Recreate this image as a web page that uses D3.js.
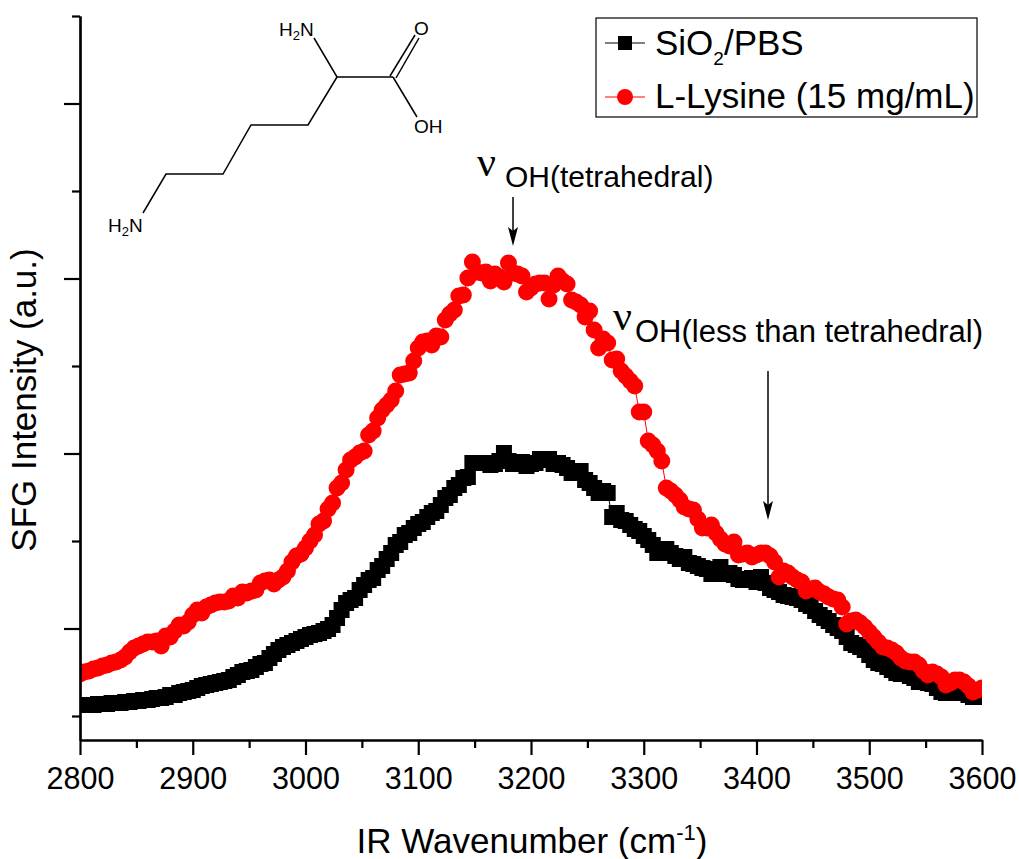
<!DOCTYPE html>
<html><head><meta charset="utf-8">
<script src="https://cdn.jsdelivr.net/npm/d3@7/dist/d3.min.js"></script>
<style>html,body{margin:0;padding:0;background:#fff}svg{display:block}text{font-family:"Liberation Sans",Arial,sans-serif;fill:#000}</style>
</head><body><svg id="c" width="1019" height="859"></svg>
<script>
const wavenumber=[2800,2804,2808,2812,2816,2820,2824,2828,2832,2836,2840,2844,2848,2852,2856,2860,2864,2868,2872,2876,2880,2884,2888,2892,2896,2900,2904,2908,2912,2916,2920,2924,2928,2932,2936,2940,2944,2948,2952,2956,2960,2964,2968,2972,2976,2980,2984,2988,2992,2996,3000,3004,3008,3012,3016,3020,3024,3028,3032,3036,3040,3044,3048,3052,3056,3060,3064,3068,3072,3076,3080,3084,3088,3092,3096,3100,3104,3108,3112,3116,3120,3124,3128,3132,3136,3140,3144,3148,3152,3156,3160,3164,3168,3172,3176,3180,3184,3188,3192,3196,3200,3204,3208,3212,3216,3220,3224,3228,3232,3236,3240,3244,3248,3252,3256,3260,3264,3268,3272,3276,3280,3284,3288,3292,3296,3300,3304,3308,3312,3316,3320,3324,3328,3332,3336,3340,3344,3348,3352,3356,3360,3364,3368,3372,3376,3380,3384,3388,3392,3396,3400,3404,3408,3412,3416,3420,3424,3428,3432,3436,3440,3444,3448,3452,3456,3460,3464,3468,3472,3476,3480,3484,3488,3492,3496,3500,3504,3508,3512,3516,3520,3524,3528,3532,3536,3540,3544,3548,3552,3556,3560,3564,3568,3572,3576,3580,3584,3588,3592,3596,3600];
const sio2=[11,11,11,11,12,12,12,13,13,13,14,14,15,15,16,16,17,18,18,19,21,21,23,24,25,26,28,30,31,32,33,34,35,36,39,41,44,45,46,49,52,53,58,62,66,69,71,73,75,77,79,81,82,83,85,87,91,98,106,113,116,118,126,131,136,138,146,150,157,163,171,174,181,183,188,192,194,199,203,205,211,218,221,228,231,238,239,253,253,253,253,251,252,255,263,255,252,253,254,250,252,253,257,256,257,252,253,251,248,243,244,245,236,233,228,223,225,223,199,203,196,195,191,187,185,180,176,171,163,167,167,163,160,157,159,153,152,150,148,147,142,145,149,142,143,141,137,136,136,138,134,139,133,128,126,124,121,120,119,118,116,112,110,105,101,98,95,91,88,85,79,73,71,69,66,61,56,53,52,49,46,43,42,42,40,38,34,34,33,32,28,24,23,23,25,25,23,21,19,19,20];
const lysine=[42,44,45,47,48,50,51,53,54,56,59,64,68,70,72,74,74,75,70,80,79,85,91,90,94,101,106,103,109,111,113,114,114,115,120,118,124,123,125,126,133,135,136,132,136,139,145,154,160,162,168,175,181,192,195,207,213,228,233,246,256,259,263,265,281,285,298,306,311,316,325,341,342,343,355,368,374,375,371,380,379,396,402,406,420,421,438,454,444,443,444,435,442,439,434,453,443,442,440,424,428,432,433,433,417,431,440,435,432,416,414,411,399,405,386,368,377,373,356,357,345,340,335,330,304,304,275,271,265,255,228,225,221,216,209,207,206,197,188,188,191,183,177,172,170,174,161,162,163,159,161,163,163,160,154,139,145,143,139,136,134,125,127,128,124,122,119,117,116,109,92,95,96,93,89,84,79,74,69,68,66,63,58,55,54,54,51,45,41,44,42,39,31,33,36,36,34,30,24,26,28];
const xMajor=[2800,2900,3000,3100,3200,3300,3400,3500,3600];
const xMinor=[2850,2950,3050,3150,3250,3350,3450,3550];
const yMajor=[87.5,262.5,437.5,612.5];
const yMinor=[0,175,350,525,700];
const seriesNames=["SiO","/PBS","L-Lysine (15 mg/mL)"];

const svg=d3.select("#c");
const x=d3.scaleLinear().domain([2800,3600]).range([80,982]);
const y=d3.scaleLinear().domain([-24,700]).range([740,16]);

svg.append("defs").append("clipPath").attr("id","plot").append("rect")
  .attr("x",80).attr("y",16).attr("width",902).attr("height",724);
const plot=svg.append("g").attr("clip-path","url(#plot)");
const line=d3.line().x((d,i)=>x(wavenumber[i])).y(d=>y(d));

plot.append("path").attr("d",line(sio2)).attr("fill","none").attr("stroke","#000").attr("stroke-width",1);
plot.selectAll(".s").data(sio2).join("rect").attr("width",16).attr("height",16)
  .attr("x",(d,i)=>x(wavenumber[i])-8).attr("y",d=>y(d)-8).attr("fill","#000");
plot.append("path").attr("d",line(lysine)).attr("fill","none").attr("stroke","#f00").attr("stroke-width",1);
plot.selectAll(".r").data(lysine).join("circle").attr("r",8.5)
  .attr("cx",(d,i)=>x(wavenumber[i])).attr("cy",d=>y(d)).attr("fill","#f00");

function styleAxis(g){g.selectAll("path,line").attr("stroke","#000").attr("stroke-width",2.2);}
const bottom=svg.append("g").attr("transform","translate(0,740)");
bottom.append("g").call(d3.axisBottom(x).tickValues(xMinor).tickSize(8).tickFormat("").tickSizeOuter(0)).call(styleAxis);
const bm=bottom.append("g").call(d3.axisBottom(x).tickValues(xMajor).tickSize(15).tickPadding(12).tickFormat(d3.format("d")).tickSizeOuter(0)).call(styleAxis);
bm.selectAll("text").attr("font-size",30.5).style("font-family",'"Liberation Sans"').attr("fill","#000");
const left=svg.append("g").attr("transform","translate(80,0)");
left.append("g").call(d3.axisLeft(y).tickValues(yMinor).tickSize(8).tickFormat("").tickSizeOuter(0)).call(styleAxis);
left.append("g").call(d3.axisLeft(y).tickValues(yMajor).tickSize(16).tickFormat("").tickSizeOuter(0)).call(styleAxis);

const xt=svg.append("text").attr("x",532).attr("y",853).attr("text-anchor","middle").attr("font-size",35);
xt.append("tspan").text("IR Wavenumber (cm");
xt.append("tspan").text("-1").attr("font-size",22).attr("dy",-13);
xt.append("tspan").text(")").attr("dy",13);
svg.append("text").attr("transform","translate(36,400) rotate(-90)").attr("text-anchor","middle").attr("font-size",35).text("SFG Intensity (a.u.)");

// legend
const lg=svg.append("g");
lg.append("rect").attr("x",596).attr("y",18).attr("width",381).attr("height",99).attr("fill","#fff").attr("stroke","#000").attr("stroke-width",1.2);
lg.append("line").attr("x1",605).attr("x2",645).attr("y1",43).attr("y2",43).attr("stroke","#000");
lg.append("rect").attr("x",618).attr("y",36).attr("width",14).attr("height",14).attr("fill","#000");
lg.append("line").attr("x1",605).attr("x2",645).attr("y1",97).attr("y2",97).attr("stroke","#f00");
lg.append("circle").attr("cx",625).attr("cy",97).attr("r",8).attr("fill","#f00");
const t1=lg.append("text").attr("x",655).attr("y",55).attr("font-size",35);
t1.append("tspan").text(seriesNames[0]);
t1.append("tspan").text("2").attr("font-size",19).attr("dy",10);
t1.append("tspan").text(seriesNames[1]).attr("dy",-10);
lg.append("text").attr("x",655).attr("y",108).attr("font-size",35).text(seriesNames[2]);

// annotations
function note(nx,ny,ox,oy,s,fs){
  svg.append("text").attr("x",nx).attr("y",ny).attr("font-size",42).style("font-family",'"Liberation Serif"').text("\u03bd");
  svg.append("text").attr("x",ox).attr("y",oy).attr("font-size",fs).text(s);
}
note(477,176,505,187,"OH(tetrahedral)",30);
note(613,330,635,342,"OH(less than tetrahedral)",31);
function arrow(ax,y0,y1){
  svg.append("line").attr("x1",ax).attr("x2",ax).attr("y1",y0).attr("y2",y1-6).attr("stroke","#000").attr("stroke-width",1.5);
  svg.append("path").attr("d",d3.line()([[ax,y1],[ax-5,y1-19],[ax,y1-15],[ax+5,y1-19]])+"Z").attr("fill","#000");
}
arrow(513,197,246);
arrow(768,371,520);

// structure of lysine
const bonds=[[[314,38],[337,77],[393,77]],[[390,76],[415,35]],[[396,78],[419,38]],[[393,77],[417,117]],[[337,77],[308,125],[251,125],[223,174],[166,174],[143,213]]];
bonds.forEach(b=>svg.append("path").attr("d",d3.line()(b)).attr("fill","none").attr("stroke","#000").attr("stroke-width",1.5));
function amine(ax,ay){
  const t=svg.append("text").attr("x",ax).attr("y",ay).attr("font-size",19);
  t.append("tspan").text("H");t.append("tspan").text("2").attr("font-size",13).attr("dy",4);t.append("tspan").text("N").attr("dy",-4);
}
amine(279,36);amine(108,232);
svg.append("text").attr("x",414).attr("y",35).attr("font-size",19).text("O");
svg.append("text").attr("x",414).attr("y",133).attr("font-size",19).text("OH");
</script></body></html>
